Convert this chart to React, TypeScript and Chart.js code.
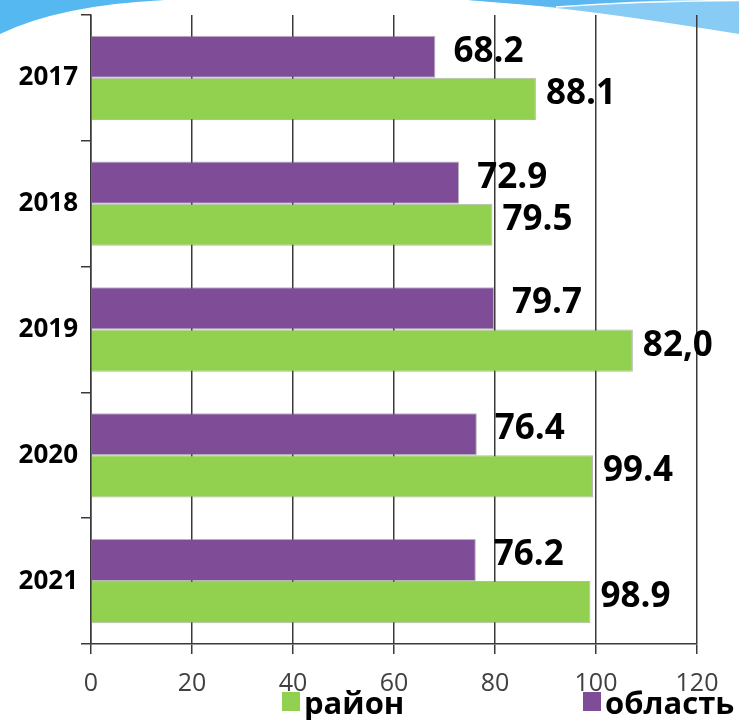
import { useEffect, useRef } from "react";
import { Chart, registerables } from "chart.js";
Chart.register(...registerables);

const years = ["2017", "2018", "2019", "2020", "2021"];
const raionName = "район";
const oblastName = "область";
const raionValues = [88.1, 79.5, 107.3, 99.4, 98.9];
const raionLabels = ["88.1", "79.5", "82,0", "99.4", "98.9"];
const oblastValues = [68.2, 72.9, 79.8, 76.4, 76.2];
const oblastLabels = ["68.2", "72.9", "79.7", "76.4", "76.2"];
const xTicks = [0, 20, 40, 60, 80, 100, 120];

const GREEN = "#92d050";
const PURPLE = "#7f4c97";
const FONT = '"Open Sans", "Noto Sans", sans-serif';

const swooshPlugin = {
  id: "swoosh",
  beforeDraw(chart: any) {
    const ctx = chart.ctx;
    ctx.save();
    ctx.fillStyle = "#ffffff";
    ctx.fillRect(0, 0, chart.width, chart.height);
    // left
    ctx.fillStyle = "#55b8f0";
    ctx.beginPath();
    ctx.moveTo(0, 0);
    ctx.lineTo(165, 0);
    ctx.quadraticCurveTo(60, 5, 0, 34);
    ctx.closePath();
    ctx.fill();
    // right light
    ctx.fillStyle = "#88ccf5";
    ctx.beginPath();
    ctx.moveTo(468, 0);
    ctx.quadraticCurveTo(560, 5, 739, 34);
    ctx.lineTo(739, 0);
    ctx.closePath();
    ctx.fill();
    // right darker band
    ctx.fillStyle = "#5bb7ef";
    ctx.beginPath();
    ctx.moveTo(468, 0);
    ctx.quadraticCurveTo(515, 4, 556, 7);
    ctx.quadraticCurveTo(610, 2, 670, 0);
    ctx.closePath();
    ctx.fill();
    ctx.strokeStyle = "#ffffff";
    ctx.lineWidth = 1.5;
    ctx.beginPath();
    ctx.moveTo(556, 7);
    ctx.quadraticCurveTo(640, 1, 739, 0.5);
    ctx.stroke();
    ctx.restore();
  },
};

const valueLabelPlugin = {
  id: "valueLabels",
  afterDatasetsDraw(chart: any) {
    const ctx = chart.ctx;
    ctx.save();
    ctx.font = `bold 35px ${FONT}`;
    ctx.fillStyle = "#000000";
    ctx.textAlign = "left";
    ctx.textBaseline = "middle";
    chart.data.datasets.forEach((ds: any, di: number) => {
      const meta = chart.getDatasetMeta(di);
      meta.data.forEach((el: any, i: number) => {
        ctx.fillText(ds.valueLabels[i], el.x + ds.labelOffset, el.y - 5);
      });
    });
    ctx.restore();
  },
};

const legendPlugin = {
  id: "customLegend",
  afterDraw(chart: any) {
    const ctx = chart.ctx;
    ctx.save();
    ctx.font = `bold 31px ${FONT}`;
    ctx.textBaseline = "alphabetic";
    ctx.textAlign = "left";
    const order = [1, 0];
    const xs = [282, 583];
    order.forEach((di, k) => {
      const ds = chart.data.datasets[di];
      ctx.fillStyle = ds.backgroundColor;
      ctx.fillRect(xs[k], 692, 18, 19);
      ctx.fillStyle = "#000000";
      ctx.fillText(ds.label, xs[k] + 22, 714);
    });
    ctx.restore();
  },
};

export default function App() {
  const ref = useRef<HTMLCanvasElement>(null);
  useEffect(() => {
    if (!ref.current) return;
    Chart.defaults.font.family = FONT;
    const chart = new Chart(ref.current, {
      type: "bar",
      data: {
        labels: years,
        datasets: [
          {
            label: oblastName,
            data: oblastValues,
            backgroundColor: PURPLE,
            borderColor: "rgba(110,110,110,0.5)",
            borderWidth: 1,
            categoryPercentage: 0.67,
            barPercentage: 1,
            valueLabels: oblastLabels,
            labelOffset: 18,
          } as any,
          {
            label: raionName,
            data: raionValues,
            backgroundColor: GREEN,
            borderColor: "rgba(110,110,110,0.5)",
            borderWidth: 1,
            categoryPercentage: 0.67,
            barPercentage: 1,
            valueLabels: raionLabels,
            labelOffset: 10,
          } as any,
        ],
      },
      options: {
        indexAxis: "y",
        animation: false,
        responsive: true,
        maintainAspectRatio: false,
        layout: { padding: { top: 0, right: 42, left: 0, bottom: 0 } },
        plugins: { legend: { display: false }, tooltip: { enabled: false } },
        scales: {
          x: {
            min: xTicks[0],
            max: xTicks[xTicks.length - 1],
            afterBuildTicks: (scale: any) => {
              scale.ticks = xTicks.map((v) => ({ value: v }));
            },
            afterFit: (scale: any) => {
              scale.height = 76;
            },
            grid: {
              color: "#3a3a3a",
              lineWidth: 1.5,
              tickLength: 10,
              drawTicks: true,
            },
            border: { color: "#3a3a3a", width: 1.5 },
            ticks: {
              color: "#404040",
              font: { size: 25, family: FONT },
              padding: 15,
            },
          },
          y: {
            afterFit: (scale: any) => {
              scale.width = 91;
            },
            grid: {
              offset: true,
              drawOnChartArea: false,
              drawTicks: true,
              tickLength: 10,
              color: "#3a3a3a",
              lineWidth: 1.5,
            },
            border: { color: "#3a3a3a", width: 1.5 },
            ticks: {
              color: "#000000",
              font: { size: 26, weight: "bold", family: FONT, lineHeight: 0.92 },
              padding: 3,
            },
          },
        },
      },
      plugins: [swooshPlugin, valueLabelPlugin, legendPlugin],
    });
    return () => chart.destroy();
  }, []);
  return (
    <div style={{ position: "fixed", left: 0, top: 0, width: 739, height: 720 }}>
      <canvas ref={ref} />
    </div>
  );
}
